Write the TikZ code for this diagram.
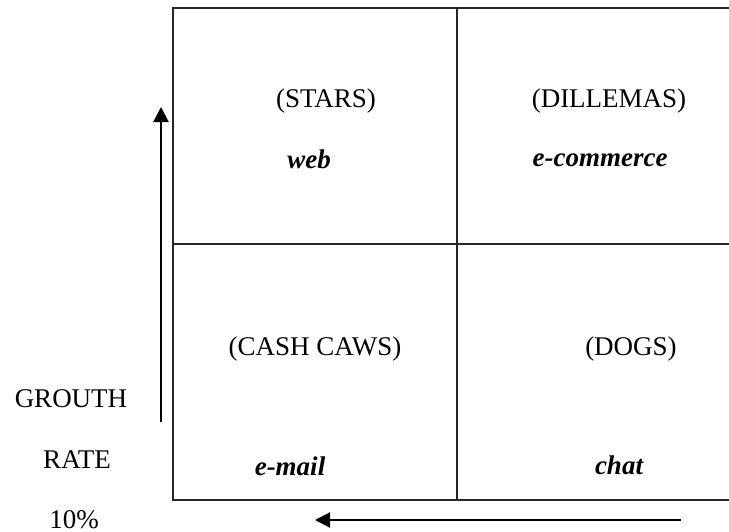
\documentclass[tikz,border=0pt]{standalone}
\usepackage{fontspec}
\setmainfont{Liberation Serif}
\usetikzlibrary{arrows.meta}
\begin{document}
\begin{tikzpicture}[x=0.5pt,y=-0.5pt,
    lbl/.style={font=\fontsize{13.5}{16}\selectfont, inner sep=0pt, anchor=base},
    itm/.style={lbl, font=\fontsize{13.5}{16}\selectfont\bfseries\itshape},
    grid/.style={line width=0.8pt, black!85},
    axis/.style={line width=1.1pt, -{Triangle[length=7.5pt,width=7.5pt]}}]
  \useasboundingbox (0,0) rectangle (729,531);
  % matrix
  \draw[grid] (729,8) -- (173,8) -- (173,500) -- (729,500);
  \draw[grid] (173,244) -- (729,244);
  \draw[grid] (457,8) -- (457,500);
  % quadrants
  \node[lbl] (stars) at (326,107) {(STARS)};
  \node[itm] (web) at (309,168) {web};
  \node[lbl] (dil) at (609,107) {(DILLEMAS)};
  \node[itm] (ecom) at (600,166) {e-commerce};
  \node[lbl] (cash) at (315,355) {(CASH CAWS)};
  \node[lbl] (dogs) at (631,355) {(DOGS)};
  \node[itm] (mail) at (290,475) {e-mail};
  \node[itm] (chat) at (619,474) {chat};
  % axis text
  \node[lbl] (grouth) at (71,407) {GROUTH};
  \node[lbl] (rate) at (77,468) {RATE};
  \node[lbl] (ten) at (74,528) {10\%};
  % arrows
  \coordinate (up0) at (161,422);
  \coordinate (up1) at (161,107);
  \coordinate (lt0) at (681,520);
  \coordinate (lt1) at (315,520);
  \draw[axis] (up0) -- (up1);
  \draw[axis] (lt0) -- (lt1);
\end{tikzpicture}
\end{document}
